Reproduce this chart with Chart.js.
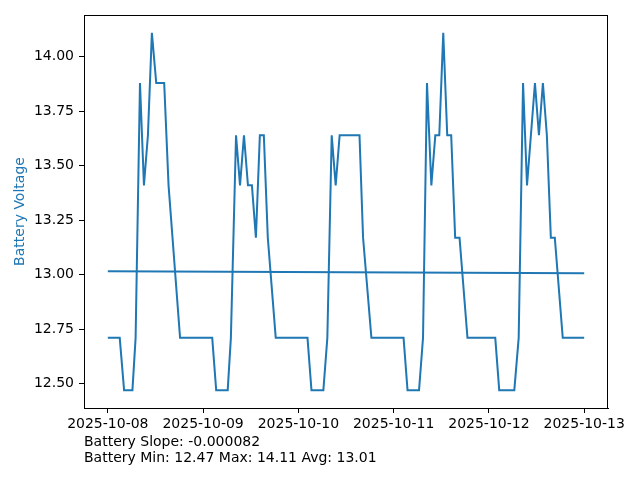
<!DOCTYPE html>
<html>
<head>
<meta charset="utf-8">
<script src="https://cdn.jsdelivr.net/npm/chart.js@4/dist/chart.umd.min.js"></script>
<style>
  body { margin: 0; background: #fff; }
  #wrap { position: relative; width: 640px; height: 480px; }
  #notes {
    position: absolute; left: 84px; top: 433px;
    font: 14px "DejaVu Sans", sans-serif; line-height: 16px; color: #000;
  }
</style>
</head>
<body>
<div id="wrap">
  <canvas id="batteryChart" width="640" height="480"></canvas>
  <div id="notes">
    <div>Battery Slope: -0.000082</div>
    <div>Battery Min: 12.47 Max: 14.11 Avg: 13.01</div>
  </div>
</div>
<script>
// hours since 2025-10-08 00:00
const hours = [
  0, 3.0, 4.1, 6.2, 7.0, 8.1, 9.1, 10.1, 11.1, 12.2, 14.2, 15.3, 18.2,
  26.3, 27.3, 30.2, 31.0, 32.3, 33.3, 34.3, 35.3, 36.3, 37.3, 38.3, 39.3, 40.3, 42.3,
  50.3, 51.3, 54.3, 55.3, 56.4, 57.4, 58.4, 63.4, 64.3, 66.4,
  74.5, 75.5, 78.4, 79.4, 80.4, 81.5, 82.5, 83.5, 84.5, 85.5, 86.5, 87.5, 88.6, 90.6,
  97.6, 98.6, 102.4, 103.5, 104.6, 105.6, 107.6, 108.6, 109.6, 110.6, 111.6, 112.6, 114.6, 120
];
const voltage = [
  12.71, 12.71, 12.47, 12.47, 12.71, 13.88, 13.41, 13.64, 14.11, 13.88, 13.88, 13.41, 12.71,
  12.71, 12.47, 12.47, 12.71, 13.64, 13.41, 13.64, 13.41, 13.41, 13.17, 13.64, 13.64, 13.17, 12.71,
  12.71, 12.47, 12.47, 12.71, 13.64, 13.41, 13.64, 13.64, 13.17, 12.71,
  12.71, 12.47, 12.47, 12.71, 13.88, 13.41, 13.64, 13.64, 14.11, 13.64, 13.64, 13.17, 13.17, 12.71,
  12.71, 12.47, 12.47, 12.71, 13.88, 13.41, 13.88, 13.64, 13.88, 13.64, 13.17, 13.17, 12.71, 12.71
];

// linear trend
const trendHours = [0, 120];
const trendVoltage = [13.016, 13.006];

const dayLabels = ['2025-10-08', '2025-10-09', '2025-10-10', '2025-10-11', '2025-10-12', '2025-10-13'];
const yTicks = [12.50, 12.75, 13.00, 13.25, 13.50, 13.75, 14.00];

const blue = '#1f77b4';
const tickFont = { family: 'DejaVu Sans', size: 14 };

// cadre autour de la zone du graphique
const frame = {
  id: 'frame',
  afterDraw(chart) {
    const a = chart.chartArea;
    const c = chart.ctx;
    c.save();
    c.strokeStyle = '#000';
    c.lineWidth = 1;
    c.strokeRect(Math.round(a.left) + 0.5, Math.round(a.top) + 0.5,
      Math.round(a.right - a.left) - 1, Math.round(a.bottom - a.top));
    c.restore();
  }
};

new Chart(document.getElementById('batteryChart'), {
  type: 'line',
  data: {
    datasets: [{
      label: 'Battery',
      data: hours.map((h, i) => ({ x: h, y: voltage[i] })),
      borderColor: blue,
      borderWidth: 2,
      pointRadius: 0,
      tension: 0
    }, {
      label: 'Trend',
      data: trendHours.map((h, i) => ({ x: h, y: trendVoltage[i] })),
      borderColor: blue,
      borderWidth: 2,
      pointRadius: 0
    }]
  },
  options: {
    responsive: false,
    animation: false,
    layout: { padding: { top: 15, right: 32, bottom: 42, left: 0 } },
    plugins: { legend: { display: false }, tooltip: { enabled: false } },
    scales: {
      x: {
        type: 'linear',
        min: -6,
        max: 126,
        afterBuildTicks: s => { s.ticks = dayLabels.map((_, i) => ({ value: i * 24 })); },
        afterFit: s => { s.height = 30; },
        grid: { drawOnChartArea: false, tickLength: 5, color: '#000' },
        border: { color: '#000' },
        ticks: {
          color: '#000', font: tickFont, padding: 3, maxRotation: 0, autoSkip: false,
          callback: v => dayLabels[Math.round(v / 24)]
        }
      },
      y: {
        min: 12.388,
        max: 14.192,
        afterBuildTicks: s => { s.ticks = yTicks.map(v => ({ value: v })); },
        afterFit: s => { s.width = 84; },
        grid: { drawOnChartArea: false, tickLength: 5, color: '#000' },
        border: { color: '#000' },
        ticks: { color: '#000', font: tickFont, padding: 5, callback: v => v.toFixed(2) },
        title: {
          display: true, text: 'Battery Voltage', color: blue,
          font: tickFont, padding: { top: 12, bottom: 0 }
        }
      }
    }
  },
  plugins: [frame]
});
</script>
</body>
</html>
